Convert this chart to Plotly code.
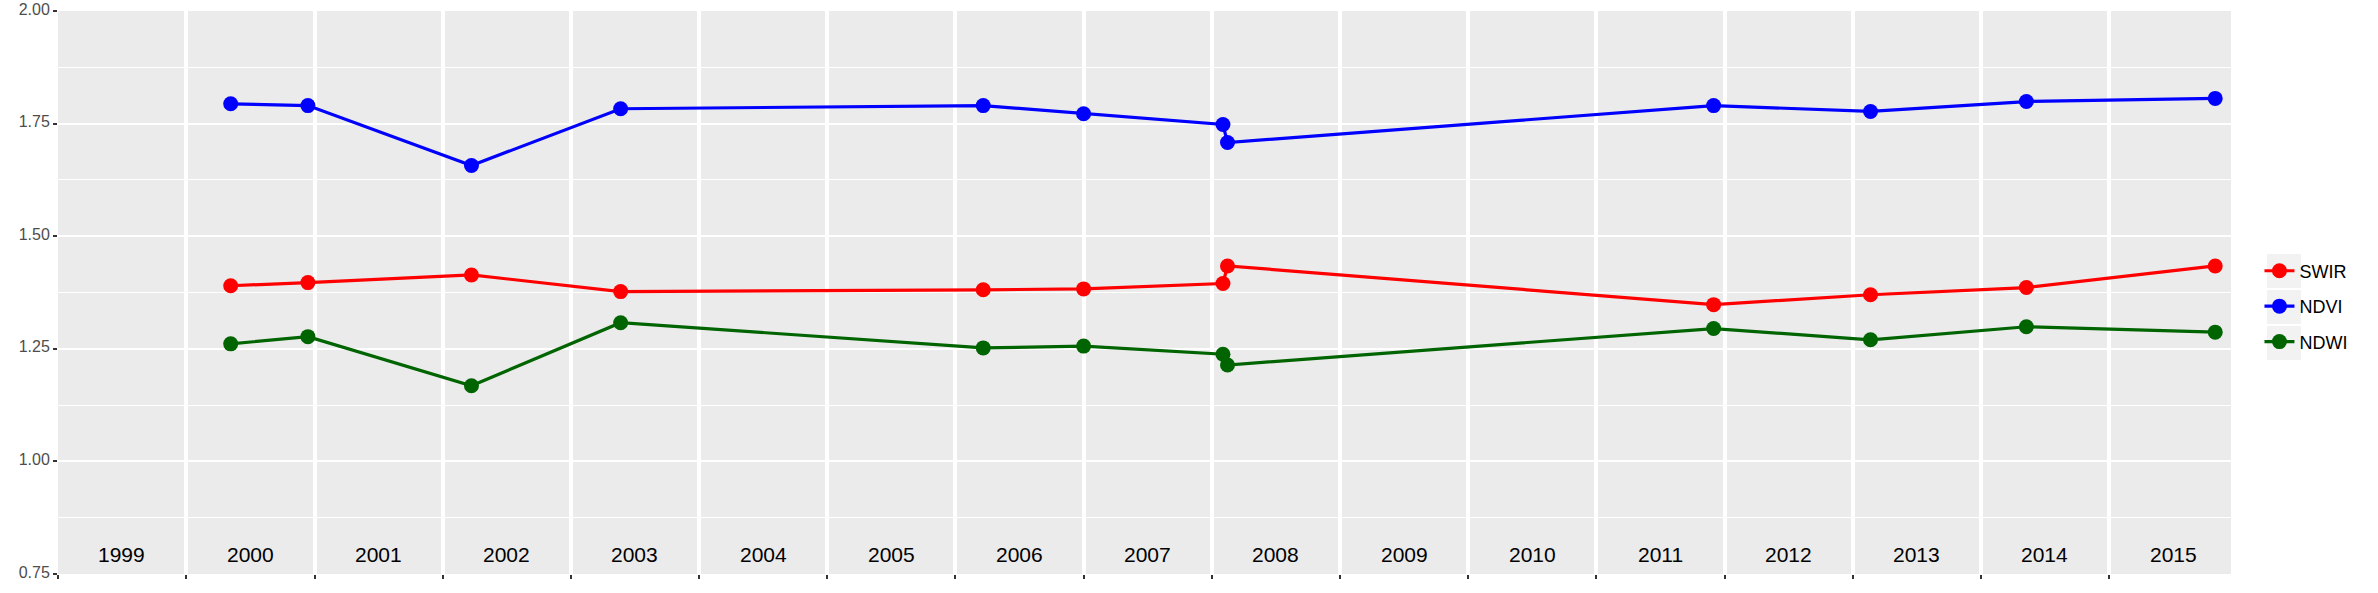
import plotly.graph_objects as go

# ---- data ----
dates = ["2000-05-07", "2000-12-13", "2002-03-24", "2003-05-23", "2006-03-21",
         "2007-01-01", "2008-02-02", "2008-02-15", "2011-12-01", "2013-02-20",
         "2014-05-10", "2015-10-30"]
swir = [1.390, 1.397, 1.414, 1.377, 1.381, 1.383, 1.395, 1.434, 1.348, 1.370, 1.386, 1.434]
ndvi = [1.794, 1.790, 1.657, 1.783, 1.790, 1.772, 1.748, 1.708, 1.790, 1.777, 1.799, 1.806]
ndwi = [1.261, 1.277, 1.168, 1.308, 1.252, 1.256, 1.238, 1.214, 1.295, 1.270, 1.299, 1.287]

series_names = ["SWIR", "NDVI", "NDWI"]
series_colors = ["#FF0000", "#0000FF", "#006400"]

years = list(range(1999, 2016))
y_ticks = [0.75, 1.00, 1.25, 1.50, 1.75, 2.00]
y_ticktext = ["0.75", "1.00", "1.25", "1.50", "1.75", "2.00"]

FONT = "Liberation Sans, Arial, sans-serif"

fig = go.Figure()
for name, vals, col in zip(series_names, [swir, ndvi, ndwi], series_colors):
    fig.add_trace(go.Scatter(
        x=dates, y=vals, name=name, mode="lines+markers",
        line=dict(color=col, width=3.2),
        marker=dict(color=col, size=15, line=dict(width=0)),
        legendgroup=name,
    ))

# year labels inside the panel, centred on each year
for yr in years:
    fig.add_annotation(
        x=f"{yr}-07-02", y=0.793, xref="x", yref="y", text=str(yr),
        showarrow=False, font=dict(family=FONT, size=21, color="black"),
        xanchor="center", yanchor="middle",
    )

# grey legend key backgrounds (ggplot style)
key_boxes = [(0.5684, 0.5080), (0.5044, 0.4440), (0.4405, 0.3801)]
for top, bot in key_boxes:
    fig.add_shape(type="rect", xref="paper", yref="paper",
                  x0=1.0166, x1=1.0322, y0=bot, y1=top,
                  fillcolor="#F2F2F2", line=dict(width=0), layer="below")

fig.update_layout(
    width=2378, height=593,
    margin=dict(l=58, r=147, t=11, b=19, pad=0, autoexpand=False),
    paper_bgcolor="white",
    plot_bgcolor="#EBEBEB",
    font=dict(family=FONT),
    showlegend=True,
    legend=dict(
        x=1.0131, xanchor="left", y=0.475, yanchor="middle",
        font=dict(family=FONT, size=18, color="black"),
        bgcolor="rgba(0,0,0,0)", tracegroupgap=9,
        traceorder="grouped",
    ),
    xaxis=dict(
        type="date", automargin=False,
        range=["1999-01-01", "2015-12-14"],
        tickvals=[f"{yr}-01-01" for yr in years],
        ticktext=["" for _ in years],
        ticks="outside", ticklen=4, tickwidth=1.5, tickcolor="#333333",
        showgrid=True, gridcolor="white", gridwidth=3.6,
        zeroline=False, showline=False,
    ),
    yaxis=dict(
        automargin=False,
        range=[0.75, 2.0],
        tickvals=y_ticks, ticktext=y_ticktext,
        ticks="outside", ticklen=4, tickwidth=1.5, tickcolor="#333333",
        tickfont=dict(family=FONT, size=16, color="#4D4D4D"),
        ticklabeloverflow="allow", ticklabelshift=-2,
        showgrid=True, gridcolor="white", gridwidth=2.2,
        minor=dict(dtick=0.125, tick0=0.75, showgrid=True, gridcolor="white", gridwidth=1.1, ticks=""),
        zeroline=False, showline=False,
    ),
)

# remove the browser's default 8px body margin so the figure fills the window
fig.write_html("out.html", config={"displayModeBar": False},
               post_script="document.body.style.margin='0';")
